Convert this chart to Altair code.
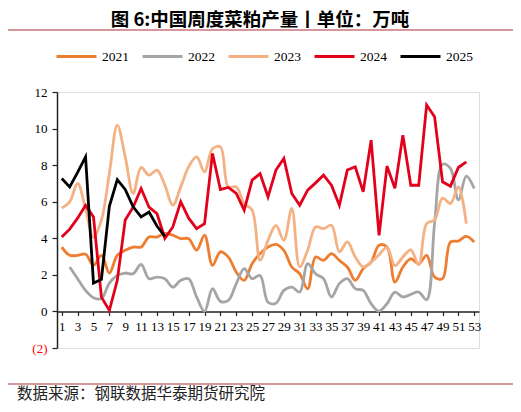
import altair as alt
import pandas as pd

# ---- data ----
years = ["2021", "2022", "2023", "2024", "2025"]
colors = ["#ED7D31", "#A5A5A5", "#F4B183", "#E3001B", "#000000"]

y2021 = [3.52, 3.07, 3.07, 3.13, 2.52, 3.07, 2.10, 3.07, 3.34, 3.52,
         3.52, 4.07, 4.07, 4.26, 4.17, 3.98, 3.98, 3.35, 4.17, 2.52,
         3.26, 2.97, 2.15, 1.70, 2.61, 3.16, 3.52, 3.67, 3.34, 2.43,
         2.06, 1.24, 2.98, 2.79, 3.16, 2.79, 2.43, 1.70, 2.34, 2.70,
         3.62, 3.52, 1.60, 2.43, 2.88, 2.60, 3.07, 1.88, 1.79, 3.80,
         3.85, 4.11, 3.80]
start2021 = 1
y2022 = [2.43, 1.79, 1.15, 0.75, 0.70, 1.55, 1.97, 2.10, 2.06, 2.57,
         1.79, 1.88, 1.79, 1.33, 1.70, 1.79, 0.79, 0.00, 1.24, 0.55,
         0.60, 1.52, 2.34, 1.79, 1.97, 0.50, 0.45, 1.15, 1.33, 1.06,
         2.61, 2.06, 1.79, 0.79, 1.52, 1.79, 1.24, 1.15, 0.42, 0.02,
         0.42, 1.06, 0.79, 0.93, 1.06, 0.64, 4.80, 8.05, 7.82, 6.10,
         7.40, 6.72]
start2022 = 2
y2023 = [5.65, 5.99, 7.00, 5.60, 4.05, 5.00, 7.54, 10.19, 8.45, 6.45,
         7.87, 7.45, 7.73, 6.90, 5.81, 6.81, 7.91, 8.45, 7.63, 8.90,
         9.00, 6.81, 6.81, 5.90, 5.54, 2.80, 3.89, 4.71, 3.89, 5.63,
         2.44, 3.35, 4.62, 4.53, 4.71, 3.26, 3.80, 2.98, 2.44, 2.70,
         3.10, 3.50, 2.50, 2.98, 3.37, 2.55, 4.80, 5.00, 6.20, 5.90,
         6.81, 4.80]
start2023 = 1
y2024 = [4.07, 4.50, 5.10, 5.80, 5.17, 0.78, 0.05, 1.70, 5.00, 5.70,
         6.72, 5.70, 5.35, 4.00, 4.62, 6.00, 5.10, 4.53, 4.80, 8.64,
         6.67, 6.78, 6.45, 5.54, 7.18, 7.54, 6.27, 7.73, 8.37, 6.45,
         5.81, 6.63, 7.03, 7.45, 6.90, 5.81, 7.73, 7.91, 6.54, 9.37,
         4.16, 7.95, 6.73, 9.64, 6.90, 6.90, 11.29, 10.65, 7.09, 6.85,
         7.87, 8.18]
start2024 = 1
y2025 = [7.27, 6.81, 7.60, 8.45, 1.55, 1.75, 5.75, 7.21, 6.67, 5.72,
         5.17, 5.44, 4.67, 4.10]
start2025 = 1

x_ticks = list(range(1, 54, 2))
y_ticks = [-2, 0, 2, 4, 6, 8, 10, 12]
smooth_years = ["2021", "2022", "2023"]
straight_years = ["2024", "2025"]

title_text = "图 6:中国周度菜粕产量丨单位：万吨"
source_text = "数据来源：钢联数据华泰期货研究院"

rows = []
for yr, start, vals in [("2021", start2021, y2021), ("2022", start2022, y2022),
                        ("2023", start2023, y2023), ("2024", start2024, y2024),
                        ("2025", start2025, y2025)]:
    for i, v in enumerate(vals):
        rows.append({"week": start + i, "year": yr, "value": v})
df = pd.DataFrame(rows)

W, H = 422, 256
serif = "Liberation Serif"
cjk = "Noto Sans CJK SC"

x_enc = alt.X("week:Q",
              scale=alt.Scale(domain=[0.4, 53.6], nice=False, zero=False),
              axis=alt.Axis(values=x_ticks, title=None, grid=False,
                            offset=-H * 2 / 14, labelFont=serif, labelFontSize=13,
                            labelColor="#000", labelPadding=5, tickSize=4,
                            tickColor="#222", domainColor="#222", domainWidth=1.5,
                            tickWidth=1.2, labelOverlap=False, labelFlush=False))
y_enc = alt.Y("value:Q",
              scale=alt.Scale(domain=[-2, 12], nice=False, zero=False),
              axis=alt.Axis(values=y_ticks, title=None, grid=False,
                            labelFont=serif, labelFontSize=13,
                            labelExpr="datum.value < 0 ? '(' + abs(datum.value) + ')' : datum.label",
                            labelColor=alt.condition("datum.value < 0", alt.value("#FF0000"), alt.value("#000000")),
                            labelPadding=5, tickSize=5, tickColor="#222",
                            domainColor="#222", domainWidth=1.5, tickWidth=1.2))
color_enc = alt.Color("year:N",
                      scale=alt.Scale(domain=years, range=colors),
                      legend=alt.Legend(orient="none", legendX=-2, legendY=-57,
                                        direction="horizontal", title=None,
                                        symbolType="stroke", symbolSize=1600,
                                        symbolStrokeWidth=3, labelFont=serif,
                                        labelFontSize=13.5, labelColor="#000",
                                        labelOffset=4, columnPadding=7, padding=0))

base = alt.Chart(df)
smooth = base.transform_filter(
    alt.FieldOneOfPredicate(field="year", oneOf=smooth_years)
).mark_line(interpolate="catmull-rom", strokeWidth=2.8).encode(
    x=x_enc, y=y_enc, color=color_enc, order="week:Q")
straight = base.transform_filter(
    alt.FieldOneOfPredicate(field="year", oneOf=straight_years)
).mark_line(interpolate="linear", strokeWidth=2.8).encode(
    x=x_enc, y=y_enc, color=color_enc, order="week:Q")

title_df = pd.DataFrame({"t": [title_text]})
source_df = pd.DataFrame({"t": [source_text]})

title_mark = alt.Chart(title_df).mark_text(
    font=cjk, fontSize=18.5, fontWeight="bold", align="center", baseline="middle",
    color="#000").encode(text="t:N", x=alt.value(203), y=alt.value(-72.5))
source_mark = alt.Chart(source_df).mark_text(
    font=cjk, fontSize=15.5, align="left", baseline="alphabetic",
    color="#222").encode(text="t:N", x=alt.value(-40), y=alt.value(307))

rule_top = alt.Chart(title_df).mark_rule(color="#C8737A", strokeWidth=1.5).encode(
    x=alt.value(-52), x2=alt.value(459), y=alt.value(-62))
rule_bottom = alt.Chart(source_df).mark_rule(color="#C8737A", strokeWidth=1.5).encode(
    x=alt.value(-52), x2=alt.value(459), y=alt.value(292))

chart = alt.layer(smooth, straight, title_mark, source_mark, rule_top, rule_bottom).properties(
    width=W, height=H,
    autosize=alt.AutoSizeParams(type="none"),
    padding={"left": 49, "top": 84, "right": 34, "bottom": 56},
).configure_view(stroke=None).configure(background="white")

chart.save("out.html", embed_options={"renderer": "svg", "actions": False})
